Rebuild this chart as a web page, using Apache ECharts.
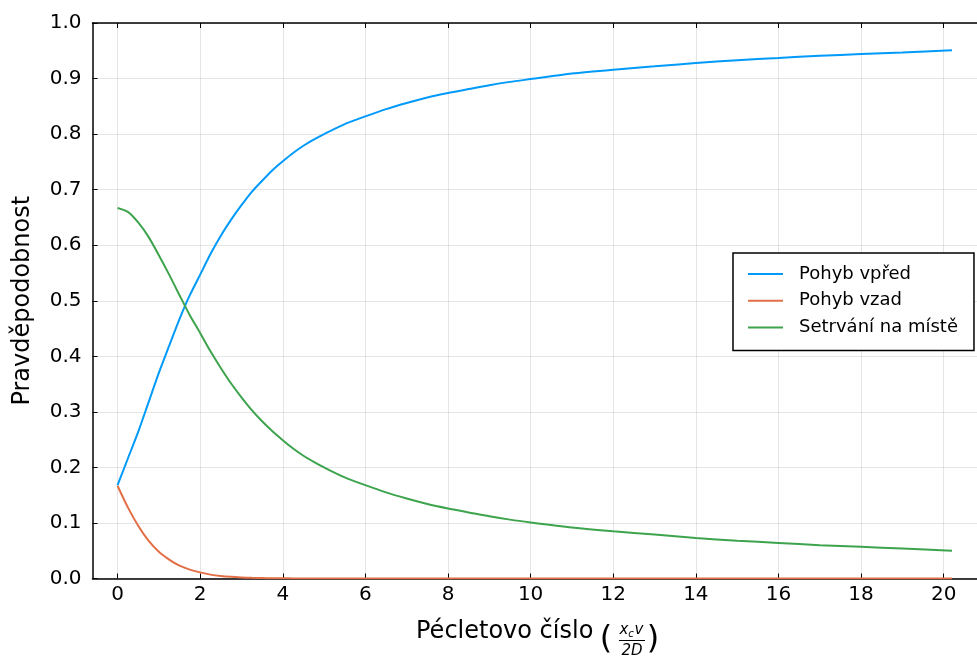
<!DOCTYPE html>
<html lang="cs">
<head>
    <meta charset="UTF-8">
    <title>Pravděpodobnost pohybu</title>
    <script type="text/javascript" src="https://cdn.jsdelivr.net/npm/echarts@6/dist/echarts.min.js"></script>
    <style>
        html, body {
            margin: 0;
            padding: 0;
            background: #fff;
        }

        #main {
            width: 977px;
            height: 659px;
        }
    </style>
</head>
<body>
<div id="main"></div>
<script>
    // Pécletovo číslo (osa x)
    var pe = [0, 0.25, 0.5, 0.75, 1, 1.25, 1.5, 1.75, 2, 2.25, 2.5, 2.75, 3, 3.25, 3.5, 3.75, 4, 4.25, 4.5, 4.75, 5,
        5.5, 6, 6.5, 7, 7.5, 8, 8.5, 9, 9.5, 10, 11, 12, 13, 14, 15, 16, 17, 18, 19, 20.2]
    // hodnoty
    var vpred = [0.168, 0.216, 0.264, 0.317, 0.370, 0.419, 0.467, 0.510, 0.547, 0.584, 0.617, 0.646, 0.672, 0.696, 0.716, 0.735, 0.751, 0.766, 0.779, 0.790, 0.800,
        0.818, 0.832, 0.845, 0.856, 0.866, 0.874, 0.881, 0.888, 0.894, 0.899, 0.909, 0.916, 0.922, 0.928, 0.933, 0.937, 0.941, 0.944, 0.947, 0.951]
    var vzad = [0.167, 0.128, 0.095, 0.068, 0.048, 0.034, 0.023, 0.016, 0.011, 0.007, 0.0045, 0.003, 0.002, 0.0012, 0.0008, 0.0005, 0.0003, 0.0002, 0.0001, 0.0001, 0,
        0, 0, 0, 0, 0, 0, 0, 0, 0, 0, 0, 0, 0, 0, 0, 0, 0, 0, 0, 0]
    var setrvani = [0.667, 0.660, 0.641, 0.615, 0.582, 0.547, 0.510, 0.474, 0.442, 0.409, 0.379, 0.351, 0.326, 0.303, 0.283, 0.265, 0.249, 0.234, 0.221, 0.210, 0.200,
        0.182, 0.168, 0.155, 0.144, 0.134, 0.126, 0.119, 0.112, 0.106, 0.101, 0.092, 0.085, 0.079, 0.073, 0.068, 0.064, 0.060, 0.057, 0.054, 0.050]
    var xTicks = [0, 2, 4, 6, 8, 10, 12, 14, 16, 18, 20]
    var names = ['Pohyb vpřed', 'Pohyb vzad', 'Setrvání na místě']

    var font = 'DejaVu Sans'

    function pairs(ys) {
        return pe.map(function (x, i) {
            return [x, ys[i]]
        })
    }

    function lineSeries(name, ys, color) {
        return {
            type: 'line',
            name: name,
            data: pairs(ys),
            smooth: 0.25,
            symbol: 'none',
            color: color,
            lineStyle: {width: 2, color: color}
        }
    }

    var chart = echarts.init(document.getElementById('main'), null, {renderer: 'canvas'})

    var option = {
        animation: false,
        backgroundColor: '#fff',
        grid: {
            left: 92.5,
            top: 23,
            width: 892,
            height: 555.5
        },
        legend: {
            orient: 'vertical',
            left: 733,
            top: 253,
            padding: [11, 16, 13, 15],
            backgroundColor: '#fff',
            borderColor: '#000',
            borderWidth: 1.5,
            borderRadius: 0,
            icon: 'rect',
            itemWidth: 35,
            itemHeight: 2,
            itemGap: 6.7,
            textStyle: {
                fontFamily: font,
                fontSize: 18,
                lineHeight: 20,
                padding: [0, 0, 0, 11],
                color: '#000'
            },
            data: names
        },
        xAxis: [{
            type: 'value',
            min: -0.606,
            max: 20.806,
            axisLine: {show: true, onZero: false, lineStyle: {color: '#000', width: 1.5}},
            axisTick: {show: true, inside: true, length: 5, customValues: xTicks, lineStyle: {color: '#000', width: 1}},
            axisLabel: {
                customValues: xTicks,
                fontFamily: font,
                fontSize: 20,
                color: '#000',
                margin: 6
            },
            splitLine: {show: true, lineStyle: {color: 'rgba(0,0,0,0.1)', width: 1}}
        }, {
            type: 'value',
            position: 'top',
            min: -0.606,
            max: 20.806,
            axisLine: {show: true, onZero: false, lineStyle: {color: '#000', width: 1.5}},
            axisTick: {show: true, inside: true, length: 5, customValues: xTicks, lineStyle: {color: '#000', width: 1}},
            axisLabel: {show: false, customValues: xTicks},
            splitLine: {show: false}
        }],
        yAxis: {
            type: 'value',
            min: 0,
            max: 1,
            interval: 0.1,
            name: 'Pravděpodobnost',
            nameLocation: 'middle',
            nameGap: 58,
            nameTextStyle: {fontFamily: font, fontSize: 24, color: '#000'},
            axisLine: {show: true, onZero: false, lineStyle: {color: '#000', width: 1.5}},
            axisTick: {show: true, inside: true, length: 5, lineStyle: {color: '#000', width: 1}},
            axisLabel: {
                fontFamily: font,
                fontSize: 20,
                color: '#000',
                margin: 11,
                formatter: function (v) {
                    return v.toFixed(1)
                }
            },
            splitLine: {show: true, lineStyle: {color: 'rgba(0,0,0,0.1)', width: 1}}
        },
        // popisek osy x se zlomkem (x_c v / 2D)
        graphic: [
            {type: 'text', left: 416, top: 620, style: {text: 'Pécletovo číslo', font: '24px "DejaVu Sans"', fill: '#000'}},
            {type: 'text', x: 606, y: 640, style: {text: '(', font: '32px "DejaVu Sans"', fill: '#000', align: 'center', verticalAlign: 'middle'}},
            {type: 'text', x: 624, y: 630, style: {text: 'x', font: 'italic 15px "DejaVu Sans"', fill: '#000', align: 'center', verticalAlign: 'middle'}},
            {type: 'text', x: 631, y: 634, style: {text: 'c', font: 'italic 10px "DejaVu Sans"', fill: '#000', align: 'center', verticalAlign: 'middle'}},
            {type: 'text', x: 639, y: 630, style: {text: 'v', font: 'italic 15px "DejaVu Sans"', fill: '#000', align: 'center', verticalAlign: 'middle'}},
            {type: 'line', shape: {x1: 619, y1: 640.5, x2: 645, y2: 640.5}, style: {stroke: '#000', lineWidth: 1}},
            {type: 'text', x: 632, y: 651, style: {text: '2D', font: 'italic 15px "DejaVu Sans"', fill: '#000', align: 'center', verticalAlign: 'middle'}},
            {type: 'text', x: 653, y: 640, style: {text: ')', font: '32px "DejaVu Sans"', fill: '#000', align: 'center', verticalAlign: 'middle'}}
        ],
        series: [
            lineSeries(names[0], vpred, '#009AFA'),
            lineSeries(names[1], vzad, '#E26F46'),
            lineSeries(names[2], setrvani, '#3DA44D')
        ]
    }

    chart.setOption(option)
</script>
</body>
</html>
